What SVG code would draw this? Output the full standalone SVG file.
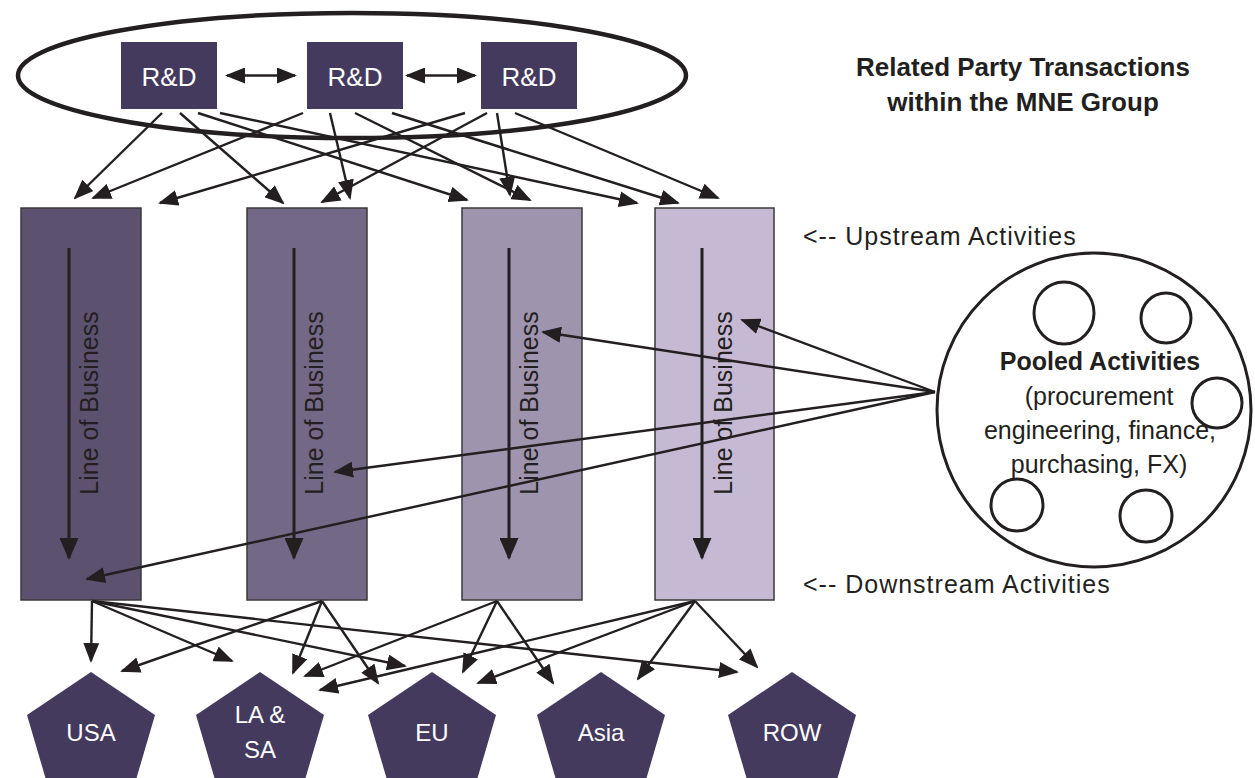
<svg xmlns="http://www.w3.org/2000/svg" width="1255" height="778" viewBox="0 0 1255 778">
<style>
  .conn { stroke:#231f20; stroke-width:2.4; fill:none; marker-end:url(#ah); }
  .lob { stroke:#231f20; stroke-width:3; fill:none; marker-end:url(#ahb); }
  .rd { fill:#433a5e; }
  .rdt { font-family:"Liberation Sans",Arial,sans-serif; font-size:26px; fill:#ffffff; text-anchor:middle; }
  .bar { stroke:#3a3a3a; stroke-width:1.5; }
  .lobt { font-family:"Liberation Sans",Arial,sans-serif; font-size:25px; fill:#231f20; text-anchor:middle; }
  .pent { fill:#433a5e; }
  .pt { font-family:"Liberation Sans",Arial,sans-serif; font-size:24px; fill:#ffffff; text-anchor:middle; }
  .lbl { font-family:"Liberation Sans",Arial,sans-serif; font-size:25px; fill:#231f20; letter-spacing:1px; }
  .title { font-family:"Liberation Sans",Arial,sans-serif; font-size:26px; font-weight:bold; fill:#231f20; text-anchor:middle; }
  .pool { font-family:"Liberation Sans",Arial,sans-serif; font-size:25px; fill:#231f20; text-anchor:middle; }
  .ring { fill:none; stroke:#231f20; stroke-width:3; }
</style>
<defs>
  <marker id="ah" viewBox="0 0 20 16" markerWidth="20" markerHeight="16" refX="18" refY="8" orient="auto-start-reverse" markerUnits="userSpaceOnUse">
    <path d="M0,0 L20,8 L0,16 z" fill="#231f20"/>
  </marker>
  <marker id="ahb" viewBox="0 0 22 19" markerWidth="22" markerHeight="19" refX="20" refY="9.5" orient="auto" markerUnits="userSpaceOnUse">
    <path d="M0,0 L22,9.5 L0,19 z" fill="#231f20"/>
  </marker>
</defs>
<rect width="1255" height="778" fill="#ffffff"/>

<g id="rd-group">
  <ellipse cx="352" cy="75.5" rx="334" ry="62.5" fill="none" stroke="#231f20" stroke-width="4.5"/>
</g>

<g id="lob1">
  <rect class="bar" x="21" y="208" width="120" height="392" fill="#5d5170"/>
  <line class="lob" x1="69" y1="248" x2="69" y2="558"/>
  <text class="lobt" transform="translate(98,403) rotate(-90)">Line of Business</text>
</g>
<g id="lob2">
  <rect class="bar" x="247" y="208" width="120" height="392" fill="#736886"/>
  <line class="lob" x1="294" y1="248" x2="294" y2="558"/>
  <text class="lobt" transform="translate(323,403) rotate(-90)">Line of Business</text>
</g>
<g id="lob3">
  <rect class="bar" x="462" y="208" width="120" height="392" fill="#9e94ad"/>
  <line class="lob" x1="509" y1="248" x2="509" y2="558"/>
  <text class="lobt" transform="translate(538,403) rotate(-90)">Line of Business</text>
</g>
<g id="lob4">
  <rect class="bar" x="655" y="208" width="119" height="392" fill="#c6b9d3"/>
  <line class="lob" x1="702" y1="248" x2="702" y2="558"/>
  <text class="lobt" transform="translate(732,403) rotate(-90)">Line of Business</text>
</g>

<g id="rd1"><rect class="rd" x="121" y="42" width="96" height="67"/><text class="rdt" x="169" y="86">R&amp;D</text></g>
<g id="rd2"><rect class="rd" x="307" y="42" width="96" height="67"/><text class="rdt" x="355" y="86">R&amp;D</text></g>
<g id="rd3"><rect class="rd" x="481" y="42" width="96" height="67"/><text class="rdt" x="529" y="86">R&amp;D</text></g>

<g id="pooled">
  <circle cx="1094" cy="410" r="157" class="ring"/>
  <ellipse cx="1064" cy="313" rx="30" ry="31" class="ring"/>
  <circle cx="1166" cy="318" r="25" class="ring"/>
  <circle cx="1217" cy="403" r="25" class="ring"/>
  <circle cx="1017" cy="505" r="26" class="ring"/>
  <circle cx="1146" cy="516" r="26" class="ring"/>
  <text class="pool" x="1100" y="370" font-weight="bold">Pooled Activities</text>
  <text class="pool" x="1099" y="405">(procurement</text>
  <text class="pool" x="1100" y="439">engineering, finance,</text>
  <text class="pool" x="1099" y="473">purchasing, FX)</text>
</g>

<g id="usa"><polygon class="pent" points="91,672 155,715 133,790 49,790 27,715"/><text class="pt" x="91" y="741">USA</text></g>
<g id="lasa"><polygon class="pent" points="260,672 324,715 302,790 218,790 196,715"/><text class="pt" x="260" y="723">LA &amp;</text><text class="pt" x="260" y="758">SA</text></g>
<g id="eu"><polygon class="pent" points="432,672 496,715 474,790 390,790 368,715"/><text class="pt" x="432" y="741">EU</text></g>
<g id="asia"><polygon class="pent" points="601,672 665,715 643,790 559,790 537,715"/><text class="pt" x="601" y="741">Asia</text></g>
<g id="row"><polygon class="pent" points="792,672 856,715 834,790 750,790 728,715"/><text class="pt" x="792" y="741">ROW</text></g>

<g id="labels">
  <text class="title" x="1023" y="76">Related Party Transactions</text>
  <text class="title" x="1023" y="111">within the MNE Group</text>
  <text class="lbl" x="803" y="245">&lt;-- Upstream Activities</text>
  <text class="lbl" x="803" y="593">&lt;-- Downstream Activities</text>
</g>

<g id="connectors">
  <line class="conn" x1="227" y1="75.5" x2="295" y2="75.5" style="marker-start:url(#ah)"/>
  <line class="conn" x1="407" y1="75.5" x2="475" y2="75.5" style="marker-start:url(#ah)"/>
  <line class="conn" x1="162" y1="113" x2="75" y2="198"/>
  <line class="conn" x1="180" y1="113" x2="283" y2="203"/>
  <line class="conn" x1="198" y1="113" x2="467" y2="200"/>
  <line class="conn" x1="220" y1="113" x2="637" y2="203"/>
  <line class="conn" x1="303" y1="113" x2="93" y2="198"/>
  <line class="conn" x1="330" y1="113" x2="350" y2="198"/>
  <line class="conn" x1="355" y1="113" x2="530" y2="200"/>
  <line class="conn" x1="392" y1="113" x2="678" y2="203"/>
  <line class="conn" x1="465" y1="113" x2="160" y2="203"/>
  <line class="conn" x1="487" y1="113" x2="322" y2="202"/>
  <line class="conn" x1="497" y1="113" x2="510" y2="195"/>
  <line class="conn" x1="515" y1="113" x2="718" y2="198"/>

  <line class="conn" x1="92" y1="601" x2="91" y2="661"/>
  <line class="conn" x1="92" y1="601" x2="232" y2="661"/>
  <line class="conn" x1="92" y1="601" x2="405" y2="666"/>
  <line class="conn" x1="92" y1="601" x2="737" y2="672"/>
  <line class="conn" x1="322" y1="601" x2="122" y2="671"/>
  <line class="conn" x1="322" y1="601" x2="293" y2="673"/>
  <line class="conn" x1="322" y1="601" x2="378" y2="683"/>
  <line class="conn" x1="497" y1="601" x2="305" y2="676"/>
  <line class="conn" x1="497" y1="601" x2="463" y2="672"/>
  <line class="conn" x1="497" y1="601" x2="553" y2="683"/>
  <line class="conn" x1="695" y1="601" x2="320" y2="690"/>
  <line class="conn" x1="695" y1="601" x2="478" y2="683"/>
  <line class="conn" x1="695" y1="601" x2="638" y2="679"/>
  <line class="conn" x1="695" y1="601" x2="757" y2="667"/>

  <line class="conn" x1="935" y1="392" x2="742" y2="320"/>
  <line class="conn" x1="935" y1="392" x2="543" y2="332"/>
  <line class="conn" x1="935" y1="392" x2="335" y2="472"/>
  <line class="conn" x1="935" y1="392" x2="87" y2="579"/>
</g>
</svg>
